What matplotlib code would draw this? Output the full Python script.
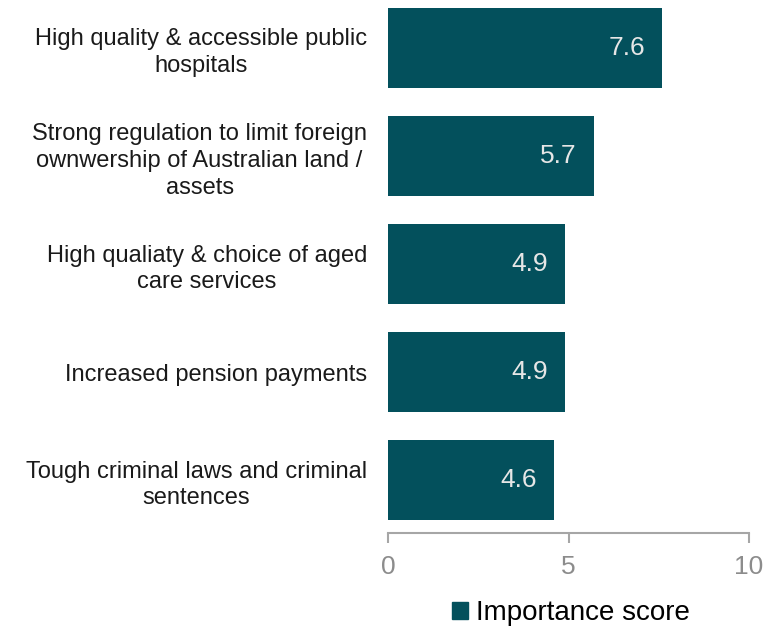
import matplotlib
matplotlib.use("Agg")
import matplotlib.pyplot as plt
from matplotlib.patches import Patch

plt.rcParams['font.family'] = ['Liberation Sans', 'DejaVu Sans']

categories = [
    "High quality & accessible public\nhospitals",
    "Strong regulation to limit foreign\nownwership of Australian land /\nassets",
    "High qualiaty & choice of aged\ncare services",
    "Increased pension payments",
    "Tough criminal laws and criminal\nsentences",
]
scores = [7.6, 5.7, 4.9, 4.9, 4.6]
series_name = "Importance score"

bar_color = "#03505C"

fig = plt.figure(figsize=(7.77, 6.26), dpi=100)
ax = fig.add_axes([388 / 777, 93 / 626, (749 - 388) / 777, 533 / 626])

pos = list(range(len(categories)))
bars = ax.barh(pos, scores, height=0.74, color=bar_color)

for y, v in zip(pos, scores):
    ax.annotate(f"{v:.1f}", xy=(v, y), xytext=(-17, 0), textcoords="offset pixels",
                ha="right", va="center", fontsize=19, color="#E6E6E6")

ax.set_xlim(0, 10)
ax.set_ylim(4.49, -0.444)
ax.set_xticks([0, 5, 10])
ax.set_yticks(pos)
ax.set_yticklabels(categories, fontsize=17, color="#1a1a1a", ha="right",
                   multialignment="center", linespacing=1.28)
ax.tick_params(axis="y", length=0, pad=15)
ax.tick_params(axis="x", length=7, width=1.5, color="#A6A6A6", labelsize=19,
               labelcolor="#8C8C8C", pad=9)

for side in ["top", "right", "left"]:
    ax.spines[side].set_visible(False)
ax.spines["bottom"].set_color("#A6A6A6")
ax.spines["bottom"].set_linewidth(1.5)

handle = Patch(color=bar_color, label=series_name)
fig.legend(handles=[handle], loc="center", bbox_to_anchor=(571 / 777, 1 - 613 / 626),
           frameon=False, fontsize=20, handlelength=0.55, handleheight=0.55,
           handletextpad=0.3)

fig.savefig("out.png", dpi=100)
